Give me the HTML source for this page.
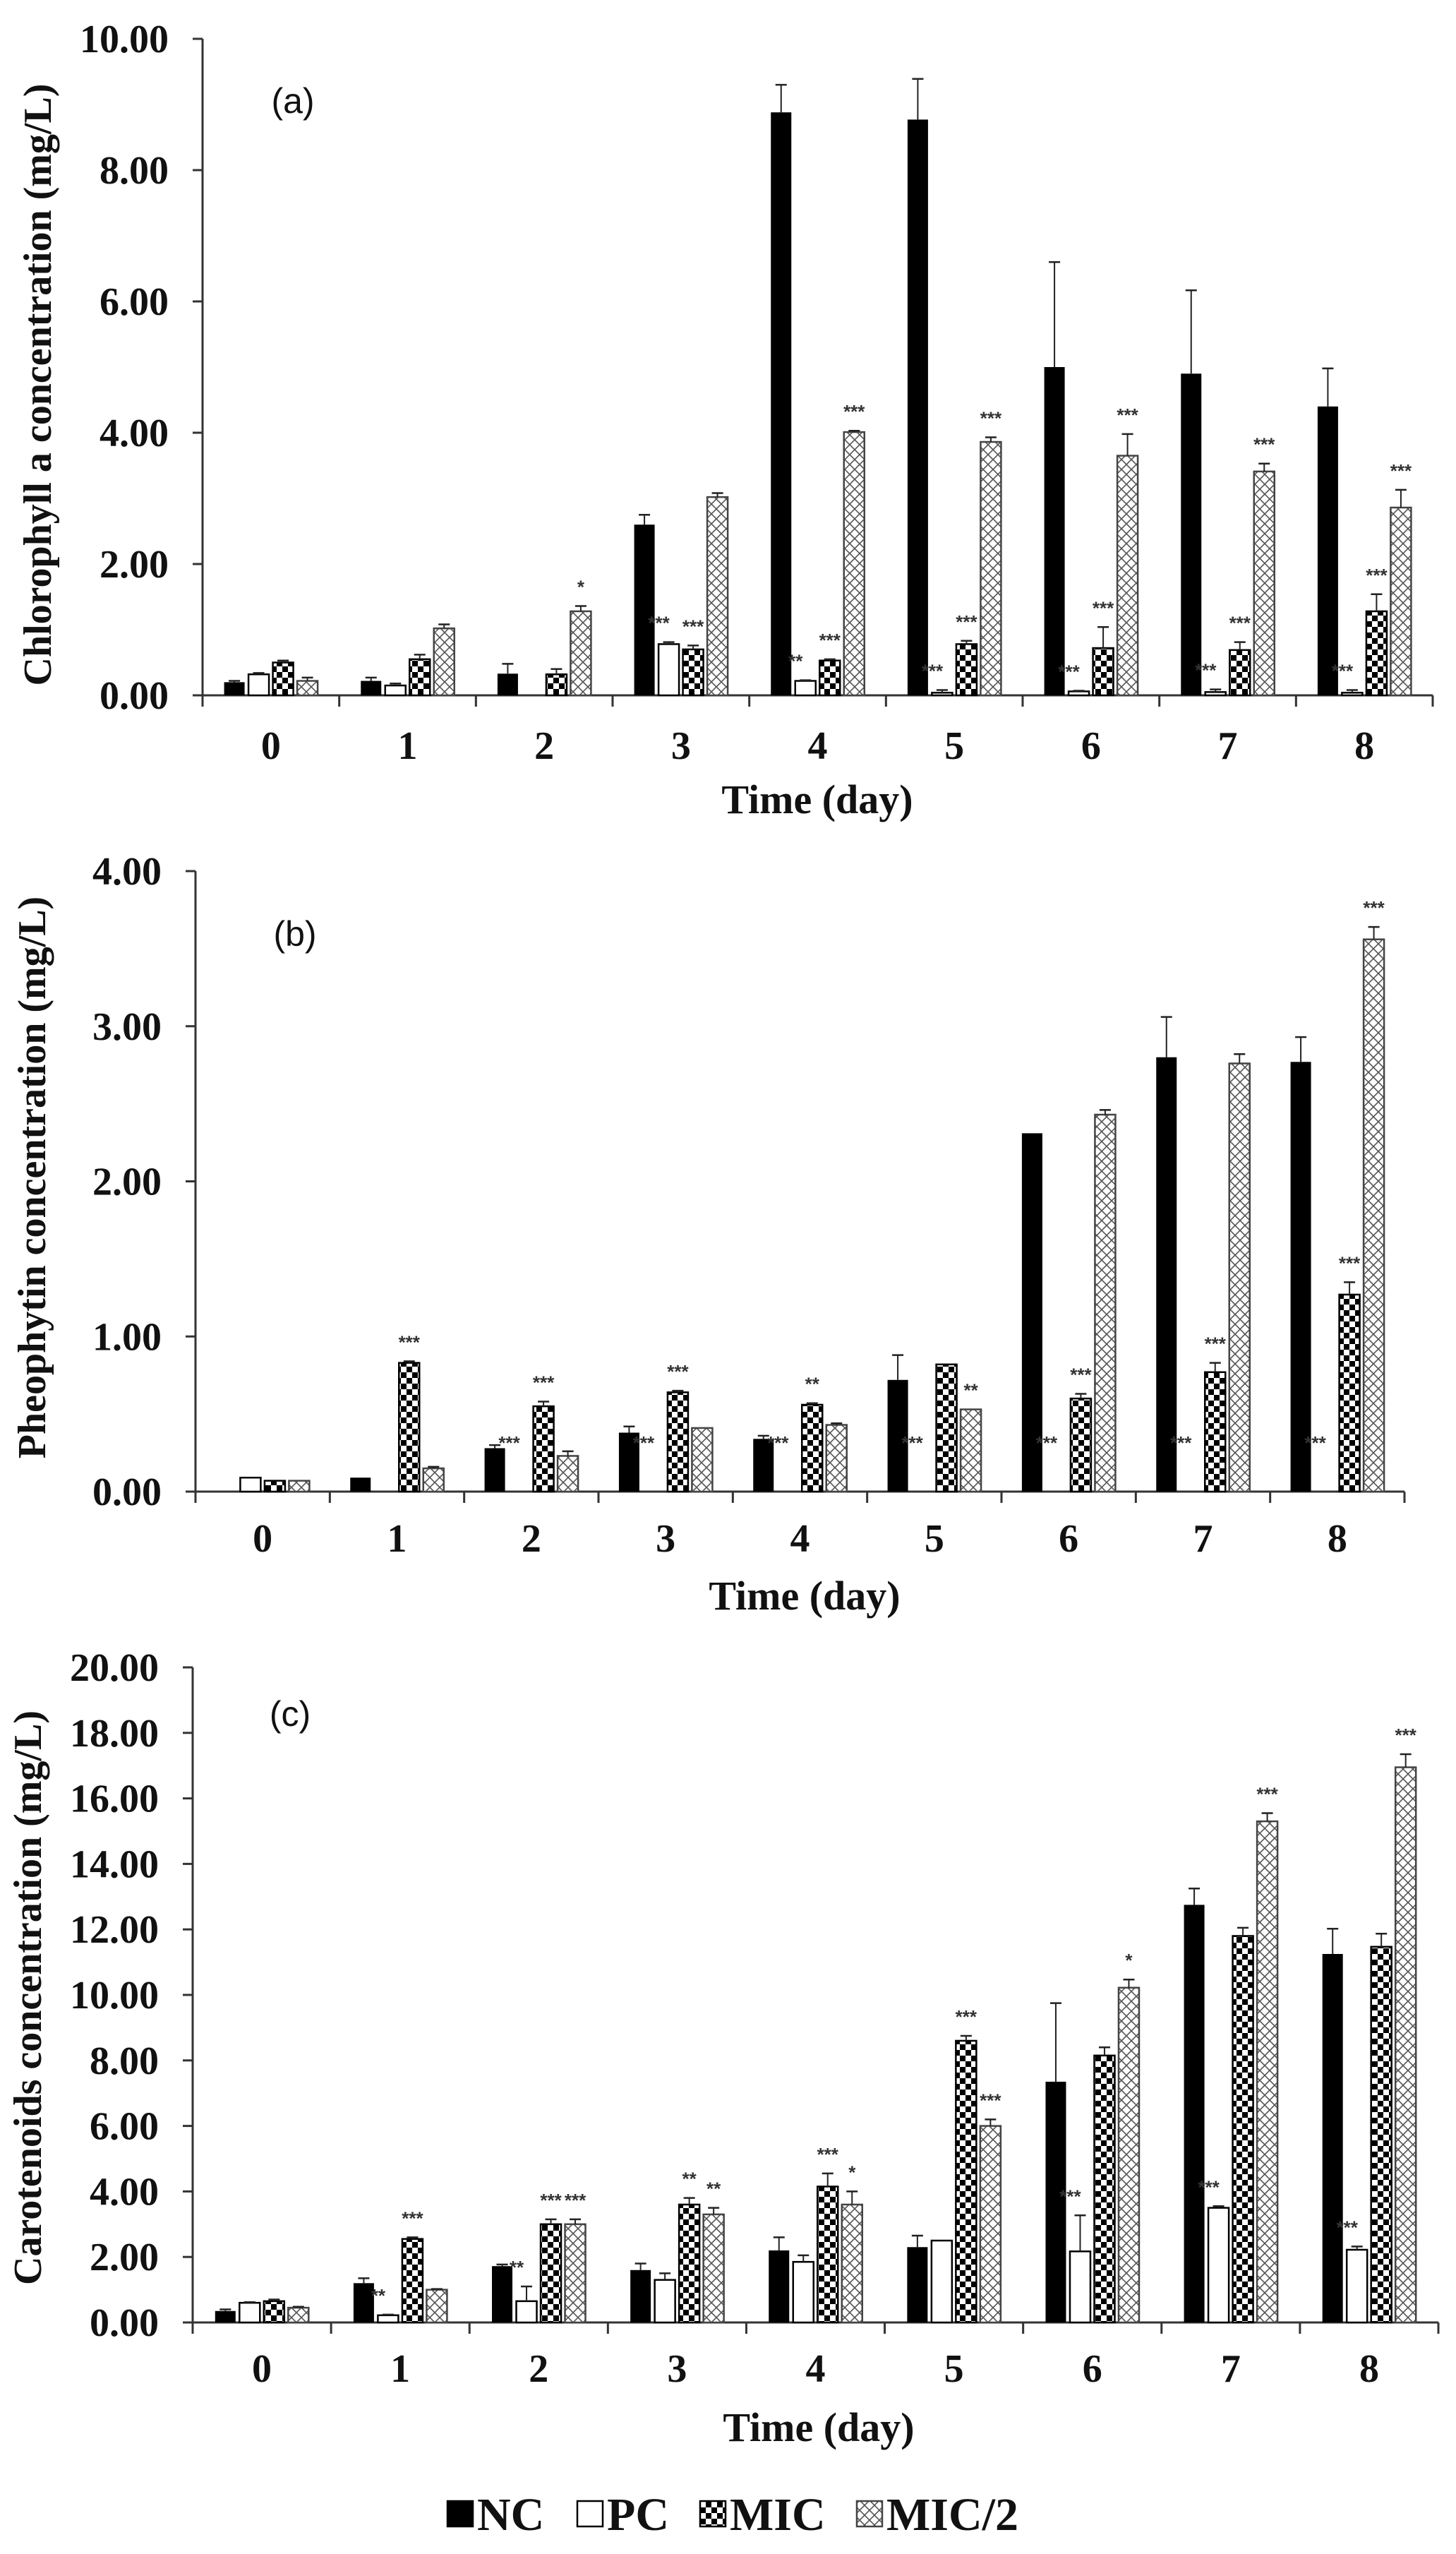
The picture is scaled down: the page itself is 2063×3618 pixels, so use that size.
<!DOCTYPE html>
<html><head><meta charset="utf-8"><style>
html,body{margin:0;padding:0;background:#fff;}
svg{display:block;}
text{font-family:"Liberation Serif",serif;}
text.sans{font-family:"Liberation Sans",sans-serif;}
</style></head>
<body>
<svg id="fig" width="2063" height="3618" viewBox="0 0 2063 3618" xmlns="http://www.w3.org/2000/svg">
<defs>
<pattern id="checker" patternUnits="userSpaceOnUse" width="16" height="16">
<rect width="16" height="16" fill="#fff"/><rect width="8" height="8" fill="#000"/><rect x="8" y="8" width="8" height="8" fill="#000"/>
</pattern>
<pattern id="cross" patternUnits="userSpaceOnUse" width="14" height="14">
<rect width="14" height="14" fill="#fff"/><path d="M0,0L14,14M14,0L0,14" stroke="#555" stroke-width="1.6"/>
</pattern>
</defs>
</svg>
<script>
const days = ["0","1","2","3","4","5","6","7","8"];
const seriesNames = ["NC","PC","MIC","MIC/2"];
// Panel a: Chlorophyll a
const chlNC = [0.20,0.22,0.33,2.60,8.88,8.77,5.00,4.90,4.40];
const chlPC = [0.32,0.15,0.00,0.78,0.22,0.04,0.06,0.05,0.04];
const chlMIC = [0.50,0.55,0.32,0.70,0.53,0.78,0.72,0.69,1.28];
const chlMIC2 = [0.22,1.02,1.28,3.02,4.01,3.86,3.65,3.41,2.86];
const chlErrNC = [0.02,0.05,0.15,0.15,0.42,0.62,1.60,1.27,0.58];
const chlErrPC = [0.02,0.03,0.00,0.03,0.01,0.04,0.01,0.04,0.04];
const chlErrMIC = [0.03,0.07,0.08,0.06,0.02,0.05,0.32,0.12,0.26];
const chlErrMIC2 = [0.05,0.06,0.08,0.06,0.02,0.07,0.33,0.12,0.27];
const chlSigPC = ["","","","***","**","***","***","***","***"];
const chlSigMIC = ["","","","***","***","***","***","***","***"];
const chlSigMIC2 = ["","","*","","***","***","***","***","***"];
const chlTicks = ["0.00","2.00","4.00","6.00","8.00","10.00"];
// Panel b: Pheophytin
const pheNC = [0.00,0.09,0.28,0.38,0.34,0.72,2.31,2.80,2.77];
const phePC = [0.09,0.00,0.00,0.00,0.00,0.00,0.00,0.00,0.00];
const pheMIC = [0.07,0.83,0.55,0.64,0.56,0.82,0.60,0.77,1.27];
const pheMIC2 = [0.07,0.15,0.23,0.41,0.43,0.53,2.43,2.76,3.56];
const pheErrNC = [0.00,0.00,0.02,0.04,0.02,0.16,0.00,0.26,0.16];
const pheErrPC = [0,0,0,0,0,0,0,0,0];
const pheErrMIC = [0.00,0.01,0.03,0.01,0.01,0.00,0.03,0.06,0.08];
const pheErrMIC2 = [0.00,0.01,0.03,0.00,0.01,0.00,0.03,0.06,0.08];
const pheSigPC = ["","","***","***","***","***","***","***","***"];
const pheSigMIC = ["","***","***","***","**","","***","***","***"];
const pheSigMIC2 = ["","","","","","**","","","***"];
const pheTicks = ["0.00","1.00","2.00","3.00","4.00"];
// Panel c: Carotenoids
const carNC = [0.35,1.20,1.72,1.60,2.20,2.30,7.35,12.75,11.25];
const carPC = [0.60,0.22,0.65,1.30,1.85,2.50,2.17,3.50,2.22];
const carMIC = [0.65,2.55,3.00,3.60,4.15,8.60,8.15,11.80,11.47];
const carMIC2 = [0.45,1.00,3.00,3.30,3.60,6.00,10.22,15.30,16.95];
const carErrNC = [0.05,0.15,0.05,0.20,0.40,0.35,2.40,0.50,0.77];
const carErrPC = [0.02,0.02,0.45,0.20,0.20,0.00,1.10,0.05,0.10];
const carErrMIC = [0.05,0.05,0.15,0.20,0.40,0.15,0.25,0.25,0.40];
const carErrMIC2 = [0.03,0.02,0.15,0.20,0.40,0.20,0.25,0.25,0.40];
const carSigPC = ["","**","**","","","","***","***","***"];
const carSigMIC = ["","***","***","**","***","***","","",""];
const carSigMIC2 = ["","","***","**","*","***","*","***","***"];
const carTicks = ["0.00","2.00","4.00","6.00","8.00","10.00","12.00","14.00","16.00","18.00","20.00"];

const NS="http://www.w3.org/2000/svg";
const svg=document.getElementById('fig');
function mk(tag,attrs,parent){const e=document.createElementNS(NS,tag);for(const k in attrs)e.setAttribute(k,attrs[k]);(parent||svg).appendChild(e);return e;}

const fills=["#000","#fff","url(#checker)","url(#cross)"];
const strokes=["#000","#000","#000","#444"];

function panel(p){
  const g=mk('g',{});
  
  
  const tickVals=p.ticks.map(Number);
  const maxV=tickVals[tickVals.length-1];
  const yS=v=>p.y0-(v/maxV)*(p.y0-p.yTop);
  const gw=(p.x1-p.x0)/days.length;
  const xS=i=>p.x0+gw*(i+0.5);
  const ya=mk('line',{x1:p.x0,y1:p.yTop,x2:p.x0,y2:p.y0+12,stroke:'#333','stroke-width':3},g);
  
  const xa=mk('line',{x1:p.x0-14,y1:p.y0,x2:p.x1,y2:p.y0,stroke:'#333','stroke-width':3},g);
  
  p.ticks.forEach((t,k)=>{
    const y=yS(tickVals[k]);
    mk('line',{x1:p.x0-14,y1:y,x2:p.x0,y2:y,stroke:'#333','stroke-width':3},g);
    const tx=mk('text',{x:p.x0-48,y:y+19,'text-anchor':'end','font-size':56,'font-weight':'bold',fill:'#111'},g);
    tx.textContent=t;
    
  });
  for(let i=0;i<=days.length;i++){
    const x=p.x0+gw*i;
    mk('line',{x1:x,y1:p.y0,x2:x,y2:p.y0+16,stroke:'#333','stroke-width':3},g);
  }
  days.forEach((d,i)=>{
    const tx=mk('text',{x:xS(i),y:p.labY+19,'text-anchor':'middle','font-size':56,'font-weight':'bold',fill:'#111'},g);
    tx.textContent=d;
    
  });
  const xt=mk('text',{x:p.xtX,y:p.xtY+20,'text-anchor':'middle','font-size':58,'font-weight':'bold',fill:'#111'},g);
  xt.textContent='Time (day)';
  
  const yt=mk('text',{x:0,y:0,transform:`translate(${p.ytX},${p.ytY}) rotate(-90)`,'text-anchor':'middle','font-size':p.ytSize,'font-weight':'bold',fill:'#111'},g);
  yt.textContent=p.ytitle;
  
  const lt=mk('text',{x:p.lblX,y:p.lblY+18,'text-anchor':'middle','font-size':50,fill:'#111','class':'sans'},g);
  lt.textContent=p.label;
  
  const bw=29,pitch=34.5;
  p.series.forEach((vals,s)=>{
    vals.forEach((v,i)=>{
      const cx=xS(i)+(s-1.5)*pitch;
      const top=yS(v);
      if(v>0){
        const r=mk('rect',{x:cx-bw/2,y:top,width:bw,height:p.y0-top,fill:fills[s],stroke:strokes[s],'stroke-width':s===0?0:2.5},g);
        
        
      }
      const e=p.errs[s][i];
      let eTop=top;
      if(e>0){
        eTop=yS(v+e);
        mk('line',{x1:cx,y1:top,x2:cx,y2:eTop,stroke:'#222','stroke-width':2},g);
        mk('line',{x1:cx-8,y1:eTop,x2:cx+8,y2:eTop,stroke:'#222','stroke-width':2.5},g);
      }
      if(s>0){
        const sg=p.sigs[s-1][i];
        if(sg){
          let sy=Math.min(eTop,top)-18;
          let sx=cx;
          if(s===1){sx=cx-14; if(p.pcLow) sy=Math.min(sy,p.y0-p.pcLow);}
          const st=mk('text',{x:sx,y:sy,'text-anchor':'middle','font-size':26,'font-weight':'bold',fill:'#333','class':'sans'},g);
          st.textContent=sg;
          
          
        }
      }
    });
  });
}

panel({name:'panel-a-chlorophyll',x0:287,x1:2030,y0:985,yTop:55,ticks:chlTicks,labY:1056,xtX:1158,xtY:1132,
  ytX:72,ytY:545,ytSize:56,ytitle:'Chlorophyll a concentration (mg/L)',lblX:415,lblY:142,label:'(a)',
  series:[chlNC,chlPC,chlMIC,chlMIC2],errs:[chlErrNC,chlErrPC,chlErrMIC,chlErrMIC2],sigs:[chlSigPC,chlSigMIC,chlSigMIC2]});
panel({name:'panel-b-pheophytin',x0:277,x1:1990,y0:2113,yTop:1234,ticks:pheTicks,labY:2179,xtX:1140,xtY:2260,
  ytX:64,ytY:1668,ytSize:56,ytitle:'Pheophytin concentration (mg/L)',lblX:418,lblY:1322,label:'(b)',pcLow:60,
  series:[pheNC,phePC,pheMIC,pheMIC2],errs:[pheErrNC,pheErrPC,pheErrMIC,pheErrMIC2],sigs:[pheSigPC,pheSigMIC,pheSigMIC2]});
panel({name:'panel-c-carotenoids',x0:273,x1:2038,y0:3290,yTop:2362,ticks:carTicks,labY:3355,xtX:1160,xtY:3438,
  ytX:58,ytY:2830,ytSize:56,ytitle:'Carotenoids concentration (mg/L)',lblX:411,lblY:2427,label:'(c)',
  series:[carNC,carPC,carMIC,carMIC2],errs:[carErrNC,carErrPC,carErrMIC,carErrMIC2],sigs:[carSigPC,carSigMIC,carSigMIC2]});

const lg=mk('g',{});


const legX=[634,818,992,1214];
seriesNames.forEach((n,s)=>{
  const r=mk('rect',{x:legX[s],y:3543,width:36,height:36,fill:fills[s],stroke:strokes[s],'stroke-width':2.5},lg);
  
  
  const t=mk('text',{x:legX[s]+42,y:3584,'font-size':66,'font-weight':'bold',fill:'#111'},lg);
  t.textContent=n;
  
  
});
</script>
</body></html>
